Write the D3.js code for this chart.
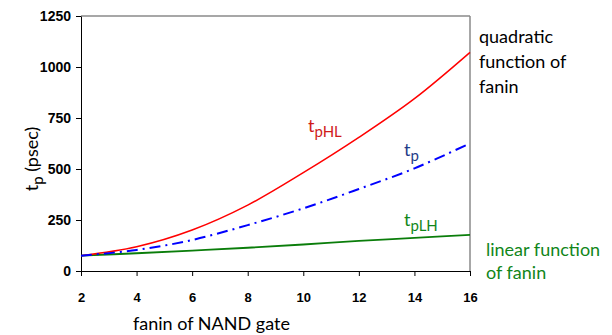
<!DOCTYPE html>
<html>
<head>
<meta charset="utf-8">
<script src="https://cdn.jsdelivr.net/npm/d3@7"></script>
<style>
  body { margin: 0; background: #fff; }
  svg { display: block; }
</style>
</head>
<body>
<div id="chart"></div>
<script>
// fanin values and delays (psec)
var fanin = [2, 4, 6, 8, 10, 12, 14, 16];
var tpHL = [75, 119, 201, 323, 482, 655, 845, 1072];
var tp = [75, 103, 152, 225, 307, 402, 503, 626];
var tpLH = [75, 87, 100, 114, 130, 148, 162, 177];
var xTicks = [2, 4, 6, 8, 10, 12, 14, 16];
var yTicks = [0, 250, 500, 750, 1000, 1250];

var W = 612, H = 335;
var labelFont = 'Lato, "Open Sans", sans-serif';

var svg = d3.select('#chart')
  .append('svg')
  .attr('width', W)
  .attr('height', H);

var x = d3.scaleLinear().domain([2, 16]).range([81, 470]);
var y = d3.scaleLinear().domain([0, 1250]).range([271, 16]);

// frame (top and right are grey)
svg.append('line')
  .attr('x1', x(2)).attr('x2', x(16))
  .attr('y1', y(1250)).attr('y2', y(1250))
  .style('stroke', '#8a8a8a').style('stroke-width', 1.5);
svg.append('line')
  .attr('x1', x(16)).attr('x2', x(16))
  .attr('y1', y(1250)).attr('y2', y(0))
  .style('stroke', '#8a8a8a').style('stroke-width', 1.5);

var xAxis = svg.append('g')
  .attr('transform', 'translate(0,' + y(0) + ')')
  .call(d3.axisBottom(x).tickValues(xTicks).tickSize(5).tickSizeOuter(0).tickPadding(17));
var yAxis = svg.append('g')
  .attr('transform', 'translate(' + x(2) + ',0)')
  .call(d3.axisLeft(y).tickValues(yTicks).tickFormat(d3.format('d'))
    .tickSize(5).tickSizeOuter(0).tickPadding(5));

xAxis.selectAll('text')
  .style('font-family', 'Arial, "Liberation Sans", sans-serif')
  .style('font-weight', 'bold')
  .style('font-size', '13px')
  .style('fill', '#000');
yAxis.selectAll('text')
  .style('font-family', 'Arial, "Liberation Sans", sans-serif')
  .style('font-weight', 'bold')
  .style('font-size', '14px')
  .style('fill', '#000');
svg.selectAll('.domain, .tick line').style('stroke', '#000');

function series(vals) {
  return fanin.map(function (f, i) { return [f, vals[i]]; });
}

var line = d3.line()
  .x(function (d) { return x(d[0]); })
  .y(function (d) { return y(d[1]); })
  .curve(d3.curveCatmullRom);

svg.append('path')
  .datum(series(tpLH))
  .attr('d', line)
  .style('fill', 'none')
  .style('stroke', '#0a7d0a')
  .style('stroke-width', 1.8);

svg.append('path')
  .datum(series(tpHL))
  .attr('d', line)
  .style('fill', 'none')
  .style('stroke', '#ff0000')
  .style('stroke-width', 1.5);

svg.append('path')
  .datum(series(tp))
  .attr('d', line)
  .style('fill', 'none')
  .style('stroke', '#0000ff')
  .style('stroke-width', 2)
  .style('stroke-dasharray', '11,5,2,5');

// curve labels with subscripts
function subLabel(tx, ty, main, sub, color) {
  var t = svg.append('text')
    .attr('x', tx).attr('y', ty)
    .style('font-family', labelFont)
    .style('font-size', '18px')
    .style('fill', color);
  t.append('tspan').text(main);
  t.append('tspan').attr('dy', 5).style('font-size', '15px').text(sub);
}
subLabel(308, 132, 't', 'pHL', '#d01a1a');
subLabel(404, 156, 't', 'p', '#1f3c88');
subLabel(404, 226, 't', 'pLH', '#11861a');

// side notes
var quad = ['quadratic', 'function of', 'fanin'];
svg.selectAll('.quad')
  .data(quad)
  .enter().append('text')
  .attr('class', 'quad')
  .attr('x', 479)
  .attr('y', function (d, i) { return 43 + i * 25; })
  .style('font-family', labelFont)
  .style('font-size', '18px')
  .style('fill', '#000')
  .text(function (d) { return d; });

var lin = ['linear function', 'of fanin'];
svg.selectAll('.lin')
  .data(lin)
  .enter().append('text')
  .attr('class', 'lin')
  .attr('x', 486)
  .attr('y', function (d, i) { return 256 + i * 23; })
  .style('font-family', labelFont)
  .style('font-size', '18px')
  .style('fill', '#11861a')
  .text(function (d) { return d; });

// axis titles
svg.append('text')
  .attr('x', 133).attr('y', 330)
  .style('font-family', labelFont)
  .style('font-size', '18px')
  .style('fill', '#000')
  .text('fanin of NAND gate');

var yt = svg.append('text')
  .attr('transform', 'translate(38,159) rotate(-90)')
  .attr('text-anchor', 'middle')
  .style('font-family', labelFont)
  .style('font-size', '18px')
  .style('fill', '#000');
yt.append('tspan').text('t');
yt.append('tspan').attr('dy', 5).style('font-size', '15px').text('p');
yt.append('tspan').attr('dy', -5).text(' (psec)');
</script>
</body>
</html>
